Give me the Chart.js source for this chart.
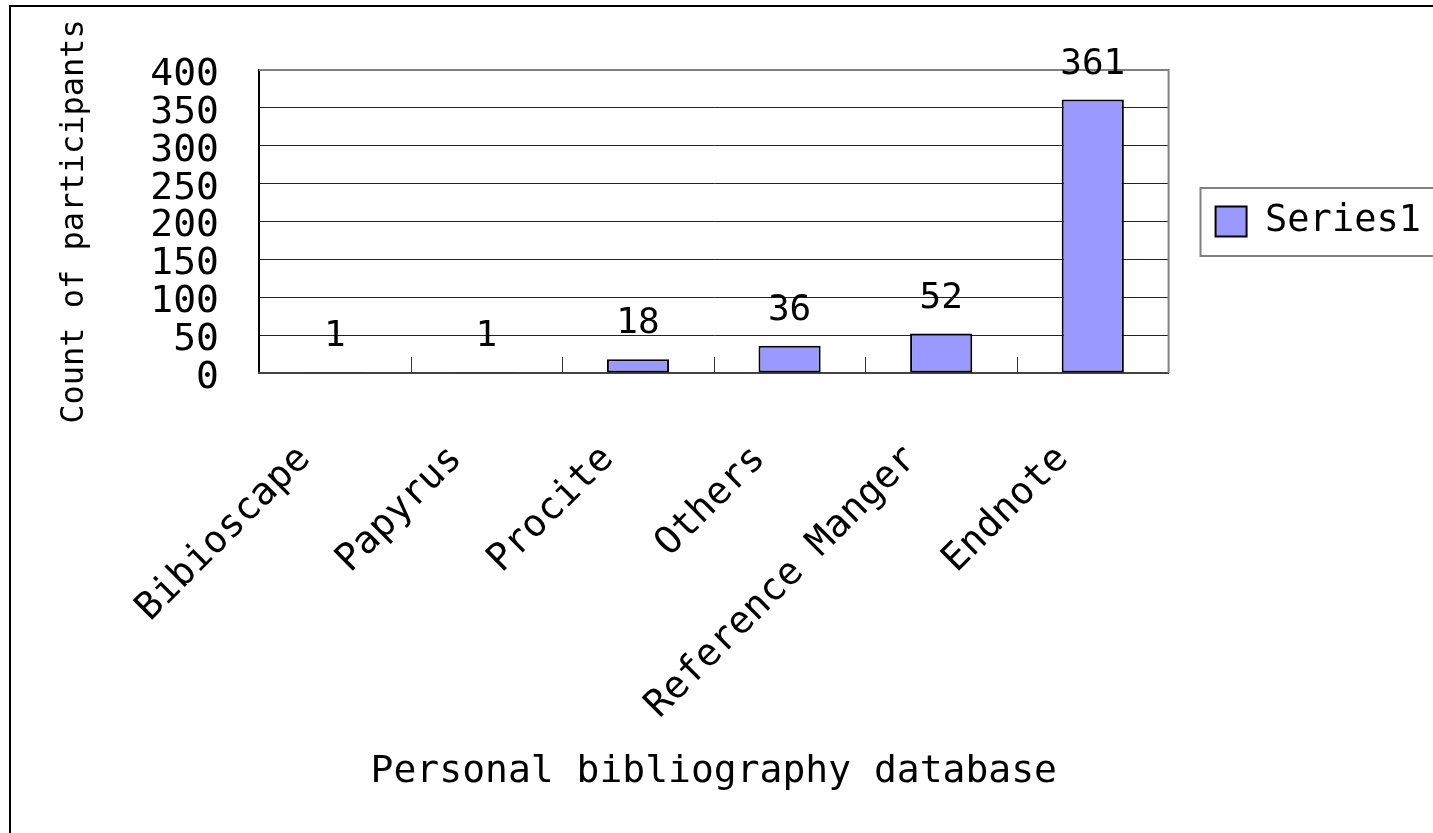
<!DOCTYPE html>
<html>
<head>
<meta charset="utf-8">
<title>Personal bibliography database</title>
<script src="https://cdn.jsdelivr.net/npm/chart.js@4.4.0/dist/chart.umd.min.js"></script>
<style>
  html, body { margin: 0; padding: 0; background: #fff; overflow: hidden; }
  #frame {
    position: absolute; left: 9px; top: 5px; width: 1500px; height: 900px;
    border-left: 2px solid #000; border-top: 2px solid #000; box-sizing: border-box;
  }
  #wrap { position: absolute; left: 0; top: 0; width: 1433px; height: 833px; }
</style>
</head>
<body>
<div id="frame"></div>
<div id="wrap"><canvas id="myChart" width="1433" height="833"></canvas></div>
<script>
const categories = ["Bibioscape", "Papyrus", "Procite", "Others", "Reference Manger", "Endnote"];
const series1 = [1, 1, 18, 36, 52, 361];
const seriesName = "Series1";
const yTicks = [0, 50, 100, 150, 200, 250, 300, 350, 400];
const xTitle = "Personal bibliography database";
const yTitle = "Count of participants";

const FONT = "'DejaVu Sans Mono', monospace";

// plot frame (top + right, grey) and the short inner ticks between categories
const frameAndTicks = {
  id: "frameAndTicks",
  beforeDatasetsDraw(chart) {
    const { ctx, chartArea: a } = chart;
    const x = chart.scales.x;
    ctx.save();
    ctx.strokeStyle = "#808080";
    ctx.lineWidth = 2;
    ctx.beginPath();
    ctx.moveTo(a.left, a.top);
    ctx.lineTo(a.right, a.top);
    ctx.lineTo(a.right, a.bottom);
    ctx.stroke();

    ctx.strokeStyle = "#333";
    ctx.lineWidth = 1;
    for (let i = 1; i < categories.length; i++) {
      const px = Math.round(x.getPixelForValue(i - 0.5)) + 0.5;
      ctx.beginPath();
      ctx.moveTo(px, a.bottom);
      ctx.lineTo(px, a.bottom - 16);
      ctx.stroke();
    }
    ctx.restore();
  }
};

// numbers above bars
const valueLabels = {
  id: "valueLabels",
  afterDatasetsDraw(chart) {
    const { ctx } = chart;
    const meta = chart.getDatasetMeta(0);
    ctx.save();
    ctx.font = "36px " + FONT;
    ctx.fillStyle = "#000";
    ctx.textAlign = "center";
    ctx.textBaseline = "alphabetic";
    meta.data.forEach((bar, i) => {
      ctx.fillText(String(series1[i]), bar.x, bar.y - 26);
    });
    ctx.restore();
  }
};

// box round the legend
const legendBox = {
  id: "legendBox",
  afterDraw(chart) {
    const lg = chart.legend;
    if (!lg || !lg.legendHitBoxes || !lg.legendHitBoxes.length) return;
    const hb = lg.legendHitBoxes[0];
    const cy = hb.top + hb.height / 2;
    const { ctx } = chart;
    ctx.save();
    ctx.strokeStyle = "#808080";
    ctx.lineWidth = 2;
    ctx.strokeRect(Math.round(hb.left - 16) + 0.5, Math.round(cy - 34), 1440, 68);
    ctx.restore();
  }
};

const ctx = document.getElementById("myChart").getContext("2d");

new Chart(ctx, {
  type: "bar",
  data: {
    labels: categories,
    datasets: [{
      label: seriesName,
      data: series1,
      backgroundColor: "#9999FF",
      borderColor: "#000",
      borderWidth: 2,
      borderSkipped: false,
      categoryPercentage: 1,
      barPercentage: 0.41
    }]
  },
  options: {
    responsive: false,
    animation: false,
    events: [],
    layout: { padding: { top: 70, right: 2, bottom: 0, left: 0 } },
    plugins: {
      tooltip: { enabled: false },
      legend: {
        position: "right",
        fullSize: false,
        labels: {
          font: { family: FONT, size: 37 },
          color: "#000",
          boxWidth: 31,
          boxHeight: 30,
          padding: 47
        }
      }
    },
    scales: {
      y: {
        min: 0,
        max: 400,
        afterBuildTicks(scale) {
          scale.ticks = yTicks.map(v => ({ value: v }));
        },
        afterFit(scale) { scale.width = 259; },
        grid: { color: "#222", lineWidth: 1, drawTicks: false },
        border: { display: true, color: "#000", width: 2 },
        ticks: {
          font: { family: FONT, size: 38 },
          color: "#000",
          autoSkip: false,
          padding: 40,
          labelOffset: 5
        },
        title: {
          display: true,
          text: yTitle,
          font: { family: FONT, size: 32 },
          color: "#000",
          padding: { top: 55, bottom: 0 }
        }
      },
      x: {
        afterFit(scale) { scale.height = 833 - 373; },
        grid: { display: false },
        border: { display: true, color: "#444", width: 2 },
        ticks: {
          font: { family: FONT, size: 38 },
          color: "#000",
          minRotation: 45,
          maxRotation: 45,
          autoSkip: false,
          padding: 56,
          labelOffset: -30
        },
        title: {
          display: true,
          text: xTitle,
          font: { family: FONT, size: 38 },
          color: "#000",
          padding: { top: 0, bottom: 38 }
        }
      }
    }
  },
  plugins: [frameAndTicks, valueLabels, legendBox]
});
</script>
</body>
</html>
